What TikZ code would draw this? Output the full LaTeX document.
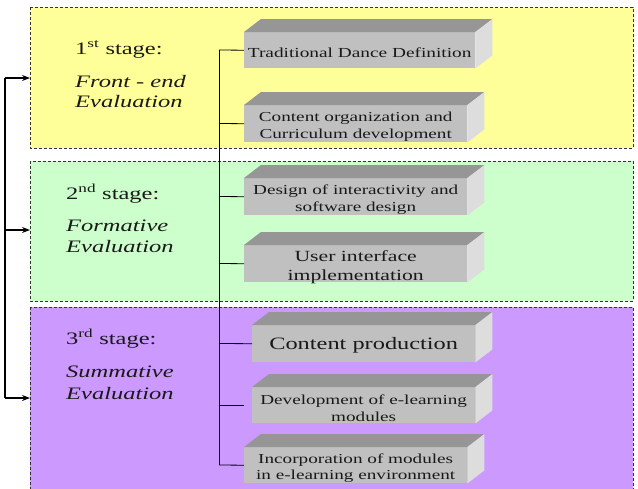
\documentclass[tikz,border=0pt]{standalone}
\usepackage{fontspec}
\setmainfont{Liberation Serif}[FakeStretch=1.4]
\usetikzlibrary{arrows.meta}
\definecolor{yellowbg}{HTML}{FFFF99}
\definecolor{greenbg}{HTML}{CCFFCC}
\definecolor{purplebg}{HTML}{CC99FF}
\definecolor{frontgray}{HTML}{C0C0C0}
\definecolor{topgray}{HTML}{969696}
\definecolor{sidegray}{HTML}{DDDDDD}
\tikzset{
  panel/.style={draw=black!80, line width=0.7pt, dash pattern=on 3pt off 2pt},
  stepbox/.style={fill=frontgray, inner sep=0pt, anchor=north west},
  boxtext/.style={inner sep=0pt, align=center, text=black!90},
  stub/.style={draw=black, line width=0.8pt},
  feedback/.style={draw=black, line width=1.2pt, -{Stealth[length=8pt,width=6pt]}},
  stagelbl/.style={anchor=base west, inner sep=0pt, font=\fontsize{17.5}{20}\selectfont, text=black!90},
  evallbl/.style={anchor=base west, inner sep=0pt, font=\fontsize{17.5}{21}\selectfont\itshape, text=black!90, align=left},
  smalltxt/.style={font=\fontsize{13.7}{16.5}\selectfont}
}
\newcommand{\cubefaces}[1]{%
  \fill[topgray] (#1.north west) -- ++(17,-13) -- ([shift={(17,-13)}]#1.north east) -- (#1.north east) -- cycle;
  \fill[sidegray] (#1.north east) -- ++(17,-13) -- ([shift={(17,-13)}]#1.south east) -- (#1.south east) -- cycle;
}
\begin{document}
\begin{tikzpicture}[x=1pt,y=-1pt]
\useasboundingbox (0,0) rectangle (638,488);
\clip (0,0) rectangle (638,488);
% panels
\path[panel, fill=yellowbg] (30,7) rectangle (633,148);
\path[panel, fill=greenbg] (30,161) rectangle (633,301);
\path[panel, fill=purplebg] (30,307) rectangle (633,495);
% stage labels
\node[stagelbl] (s1) at (75,54) {1\textsuperscript{st} stage:};
\node[evallbl] (e1a) at (75,87) {Front - end};
\node[evallbl] (e1b) at (75,107) {Evaluation};
\node[stagelbl] (s2) at (66,199) {2\textsuperscript{nd} stage:};
\node[evallbl] (e2a) at (66,231) {Formative};
\node[evallbl] (e2b) at (66,252) {Evaluation};
\node[stagelbl] (s3) at (66,344) {3\textsuperscript{rd} stage:};
\node[evallbl] (e3a) at (66,377) {Summative};
\node[evallbl] (e3b) at (66,399) {Evaluation};
% boxes
\node[stepbox, minimum width=231pt, minimum height=36pt] (b1) at (244,32) {};
\node[stepbox, minimum width=223pt, minimum height=37pt] (b2) at (244,105) {};
\node[stepbox, minimum width=223pt, minimum height=37pt] (b3) at (244,178) {};
\node[stepbox, minimum width=223pt, minimum height=37pt] (b4) at (244,245) {};
\node[stepbox, minimum width=223pt, minimum height=37pt] (b5) at (252,325) {};
\node[stepbox, minimum width=223pt, minimum height=36pt] (b6) at (252,387) {};
\node[stepbox, minimum width=223pt, minimum height=36pt] (b7) at (244,447) {};
\cubefaces{b1}
\cubefaces{b2}
\cubefaces{b3}
\cubefaces{b4}
\cubefaces{b5}
\cubefaces{b6}
\cubefaces{b7}
\node[boxtext, font=\fontsize{13.8}{15}\selectfont] (b1t) at ([yshift=-2.5pt]b1.center) {Traditional Dance Definition};
\node[boxtext, smalltxt] (b2t) at ([yshift=-3pt]b2.center) {Content organization and\\Curriculum development};
\node[boxtext, smalltxt] (b3t) at ([yshift=-3pt]b3.center) {Design of interactivity and\\software design};
\node[boxtext, font=\fontsize{15.5}{19}\selectfont] (b4t) at ([yshift=-3.5pt]b4.center) {User interface\\implementation};
\node[boxtext, font=\fontsize{17.4}{19}\selectfont] (b5t) at ([yshift=-2pt]b5.center) {Content production};
\node[boxtext, smalltxt] (b6t) at ([yshift=-3pt]b6.center) {Development of e-learning\\modules};
\node[boxtext, smalltxt] (b7t) at ([yshift=-3pt]b7.center) {Incorporation of modules\\in e-learning environment};
% trunk
\coordinate (t1) at (219,50);
\coordinate (t2) at (219,123.5);
\coordinate (t3) at (219,196.5);
\coordinate (t4) at (219,263.5);
\coordinate (t5) at (219,343.5);
\coordinate (t6) at (219,405);
\coordinate (t6e) at (244,405);
\coordinate (t7) at (219,465);
\draw[stub] (t1) -- (t7);
\draw[stub] (t1) -- (b1.west);
\draw[stub] (t2) -- (b2.west);
\draw[stub] (t3) -- (b3.west);
\draw[stub] (t4) -- (b4.west);
\draw[stub] (t5) -- (b5.west);
\draw[stub] (t6) -- (t6e);
\draw[stub] (t7) -- (b7.west);
% feedback loop
\coordinate (f1) at (5,78);
\coordinate (f2) at (5,230);
\coordinate (f3) at (5,398);
\coordinate (p1) at (30,78);
\coordinate (p2) at (30,230);
\coordinate (p3) at (30,398);
\draw[draw=black, line width=1.2pt] (f1) -- (f3);
\draw[feedback] (f1) -- (p1);
\draw[feedback] (f2) -- (p2);
\draw[feedback] (f3) -- (p3);
\end{tikzpicture}
\end{document}
